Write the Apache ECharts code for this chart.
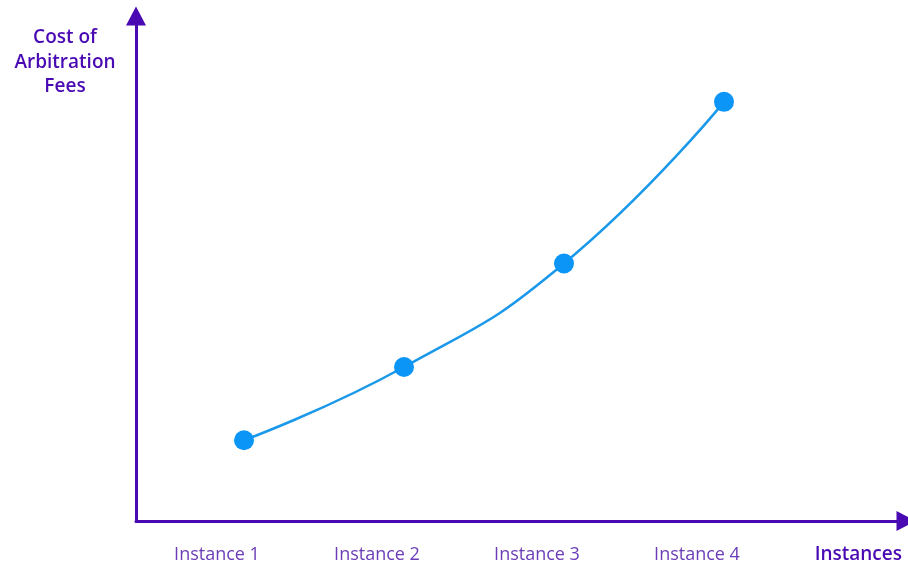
<!DOCTYPE html>
<html>
<head>
<meta charset="utf-8">
<script src="https://cdn.jsdelivr.net/npm/echarts@6/dist/echarts.min.js"></script>
<style>html,body{margin:0;padding:0;background:#fff}#c{width:908px;height:567px}</style>
</head>
<body>
<div id="c"></div>
<script>
const categories = ['Instance 1', 'Instance 2', 'Instance 3', 'Instance 4'];
const positions = [1, 2, 3, 4];
const costValues = [16, 30.5, 51, 83];
const xAxisName = 'Instances';
const yAxisName = 'Cost of\nArbitration\nFees';

const axisColor = '#4a0ab3';
const font = 'Open Sans';
const chart = echarts.init(document.getElementById('c'));
chart.setOption({
  animation: false,
  grid: { left: 136, right: 2, top: 16, bottom: 46, containLabel: false },
  xAxis: {
    type: 'value', min: 0.325, max: 5.1375,
    name: xAxisName, nameLocation: 'end', nameGap: 0,
    nameTextStyle: { color: axisColor, fontFamily: font, fontSize: 19, fontWeight: 600, align: 'right', verticalAlign: 'top', padding: [24, 4, 0, 0] },
    axisLine: { show: true, lineStyle: { color: axisColor, width: 3 }, symbol: ['none', 'triangle'], symbolSize: [20, 19] },
    axisTick: { show: false },
    splitLine: { show: false },
    axisLabel: {
      customValues: positions, margin: 25,
      color: '#6b3db8', fontFamily: font, fontSize: 18,
      padding: [0, 54, 0, 0],
      formatter: v => categories[positions.indexOf(v)] || ''
    }
  },
  yAxis: {
    type: 'value', min: 0, max: 100,
    name: yAxisName, nameLocation: 'end', nameGap: -83,
    nameTextStyle: { color: axisColor, fontFamily: font, fontSize: 19, fontWeight: 600, lineHeight: 24.5, align: 'center', padding: [0, 142, 0, 0] },
    axisLine: { show: true, lineStyle: { color: axisColor, width: 3 }, symbol: ['none', 'triangle'], symbolSize: [20, 19] },
    axisTick: { show: false }, axisLabel: { show: false }, splitLine: { show: false }
  },
  series: [{
    type: 'line', smooth: true,
    data: positions.map((p, i) => [p, costValues[i]]),
    symbol: 'circle', symbolSize: 20,
    lineStyle: { color: '#1a98ea', width: 2.5 },
    itemStyle: { color: '#0b95f6' }
  }]
});
</script>
</body>
</html>
